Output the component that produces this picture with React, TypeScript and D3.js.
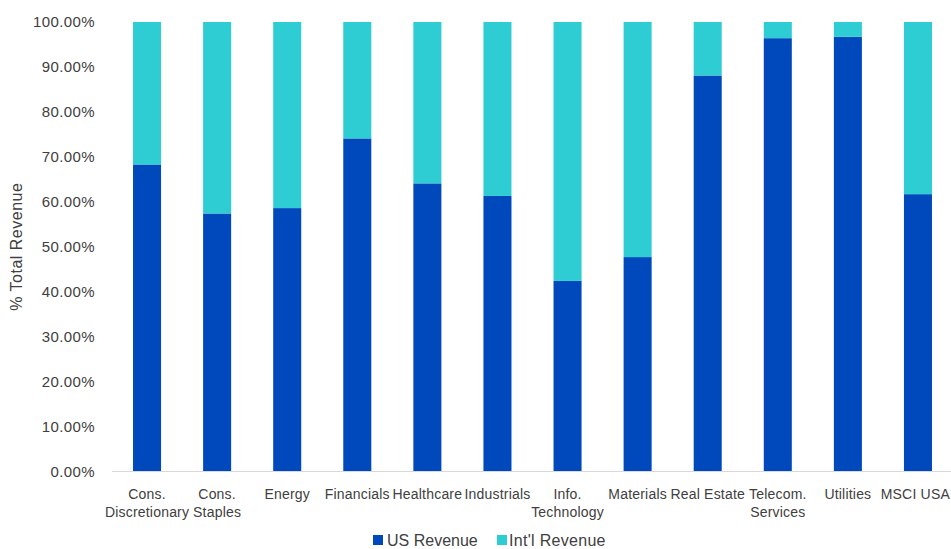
import React from "react";
import * as d3 from "d3";

const categories = [
  ["Cons.", "Discretionary"],
  ["Cons.", "Staples"],
  ["Energy"],
  ["Financials"],
  ["Healthcare"],
  ["Industrials"],
  ["Info.", "Technology"],
  ["Materials"],
  ["Real Estate"],
  ["Telecom.", "Services"],
  ["Utilities"],
  ["MSCI USA"],
];
const usRevenue = [68.3, 57.4, 58.6, 74.1, 64.1, 61.3, 42.4, 47.7, 88.1, 96.4, 96.7, 61.7];
const intlRevenue = usRevenue.map((v) => 100 - v);
const yTicks = [0, 10, 20, 30, 40, 50, 60, 70, 80, 90, 100];
const seriesNames = ["US Revenue", "Int'l Revenue"];
const colors = ["#0049BC", "#2ECCD3"];

const W = 951;
const H = 549;
const FONT = "'Liberation Sans', Arial, sans-serif";

export default function App() {
  const left = 112;
  const right = 953;
  const top = 22;
  const bottom = 471.5;
  const x = d3
    .scaleBand<number>()
    .domain(categories.map((_, i) => i))
    .range([left, right])
    .paddingInner(0.6)
    .paddingOuter(0.3);
  const y = d3.scaleLinear().domain([0, 100]).range([bottom, top]);
  const fmt = (v: number) => v.toFixed(2) + "%";

  return (
    <svg
      width={W}
      height={H}
      style={{ position: "absolute", left: 0, top: 0, background: "#fff" }}
      fontFamily={FONT}
    >
      {yTicks.map((t) => (
        <text
          key={t}
          x={95}
          y={y(t)}
          dy="0.35em"
          textAnchor="end"
          fontSize={15}
          fill="#404040"
          letterSpacing={0.4}
        >
          {fmt(t)}
        </text>
      ))}
      <text
        transform={`translate(22,${(top + bottom) / 2}) rotate(-90)`}
        textAnchor="middle"
        fontSize={16}
        letterSpacing={0.5}
        fill="#404040"
      >
        % Total Revenue
      </text>
      {categories.map((_, i) => {
        const bx = x(i)!;
        const bw = x.bandwidth();
        return (
          <g key={i}>
            <rect x={bx} y={y(usRevenue[i])} width={bw} height={bottom - y(usRevenue[i])} fill={colors[0]} />
            <rect
              x={bx}
              y={y(usRevenue[i] + intlRevenue[i])}
              width={bw}
              height={y(usRevenue[i]) - y(usRevenue[i] + intlRevenue[i])}
              fill={colors[1]}
            />
          </g>
        );
      })}
      <line x1={left} x2={W} y1={bottom} y2={bottom} stroke="#d9d9d9" strokeWidth={1} />
      {categories.map((lines, i) => {
        const cx = x(i)! + x.bandwidth() / 2;
        const estHalf = Math.max(...lines.map((l) => l.length)) * 4.3;
        const overflow = cx + estHalf > W - 1;
        return (
          <text
            key={i}
            textAnchor={overflow ? "end" : "middle"}
            fontSize={14}
            letterSpacing={0.2}
            fill="#404040"
          >
            {lines.map((l, j) => (
              <tspan key={j} x={overflow ? W - 1 : cx} y={499 + j * 18}>
                {l}
              </tspan>
            ))}
          </text>
        );
      })}
      <g>
        <rect x={373} y={535} width={10} height={10} fill={colors[0]} />
        <text x={387} y={546} fontSize={16} fill="#404040">
          {seriesNames[0]}
        </text>
        <rect x={497} y={535} width={10} height={10} fill={colors[1]} />
        <text x={509} y={546} fontSize={16} letterSpacing={0.3} fill="#404040">
          {seriesNames[1]}
        </text>
      </g>
    </svg>
  );
}
